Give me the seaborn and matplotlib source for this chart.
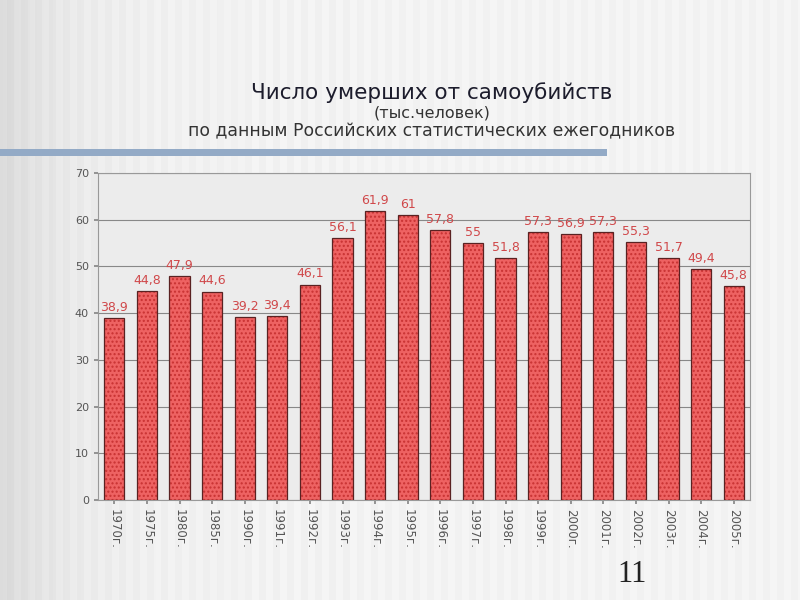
import matplotlib
matplotlib.use('Agg')
import matplotlib.pyplot as plt
import numpy as np
import pandas as pd
import seaborn as sns

# Chart data
years = ['1970г.', '1975г.', '1980г.', '1985г.', '1990г.', '1991г.', '1992г.',
         '1993г.', '1994г.', '1995г.', '1996г.', '1997г.', '1998г.', '1999г.',
         '2000г.', '2001г.', '2002г.', '2003г.', '2004г.', '2005г.']
deaths = [38.9, 44.8, 47.9, 44.6, 39.2, 39.4, 46.1, 56.1, 61.9, 61.0,
          57.8, 55.0, 51.8, 57.3, 56.9, 57.3, 55.3, 51.7, 49.4, 45.8]
y_ticks = [0, 10, 20, 30, 40, 50, 60, 70]

df = pd.DataFrame({'year': years, 'value': deaths})

sns.set_theme(style='white')
plt.rcParams['font.family'] = ['DejaVu Sans']

fig = plt.figure(figsize=(8, 6), dpi=100)
fig.patch.set_facecolor('#f4f4f4')

# Slide background: gray gradient at the left and faint vertical stripes
bg = fig.add_axes([0, 0, 1, 1], zorder=-10)
cols = np.arange(800)
shade = 0.96 - 0.1 * np.exp(-cols / 70.0)
shade = shade - 0.018 * ((cols // 7) % 2)
bg.imshow(shade[np.newaxis, :], aspect='auto', cmap='gray', vmin=0, vmax=1,
          extent=[0, 1, 0, 1])
bg.set_axis_off()

# Blue rule under the title
fig.add_artist(plt.Rectangle((0, 1 - 156 / 600), 607 / 800, 7 / 600,
                             transform=fig.transFigure, color='#93aac6', lw=0))

# Title block
fig.text(0.54, 1 - 93 / 600, 'Число умерших от самоубийств', ha='center', va='center',
         fontsize=15.5, color='#1c1c2c')
fig.text(0.54, 1 - 113 / 600, '(тыс.человек)', ha='center', va='center',
         fontsize=11.5, color='#333333')
fig.text(0.54, 1 - 131 / 600, 'по данным Российских статистических ежегодников',
         ha='center', va='center', fontsize=12.4, color='#333333')

# Bar chart
ax = fig.add_axes([98 / 800, 1 - 500 / 600, 652 / 800, 327 / 600])
ax.set_facecolor('#ececec')
sns.barplot(x='year', y='value', data=df, ax=ax, color='#ee6262', width=0.62,
            saturation=1, edgecolor='#5a2222', linewidth=0.9, hatch='....', zorder=3)
# Red dotted texture inside, dark outline around
for bar in ax.patches:
    bar._hatch_color = matplotlib.colors.to_rgba('#c83232')

ax.set_ylim(0, 70)
ax.set_yticks(y_ticks)
ax.set_yticklabels([str(t) for t in y_ticks], fontsize=8, color='#555555')
ax.yaxis.grid(True, color='#888888', linewidth=0.8, zorder=0)
ax.set_axisbelow(True)
ax.set_xlabel('')
ax.set_ylabel('')
ax.tick_params(axis='x', rotation=270, labelsize=8.5, labelcolor='#555555',
               length=3, color='#888888', bottom=True)
ax.tick_params(axis='y', length=3, color='#888888', left=True)
for spine in ax.spines.values():
    spine.set_color('#999999')
    spine.set_linewidth(0.8)

# Value labels with comma decimals
labels = [(f'{v:g}').replace('.', ',') for v in deaths]
ax.bar_label(ax.containers[0], labels=labels, padding=3, fontsize=9, color='#d0484a')

# Slide number
fig.text(632 / 800, 1 - 575 / 600, '11', ha='center', va='center', fontsize=22,
         family='Liberation Serif', color='#222222')

plt.savefig('out.png', dpi=100)
